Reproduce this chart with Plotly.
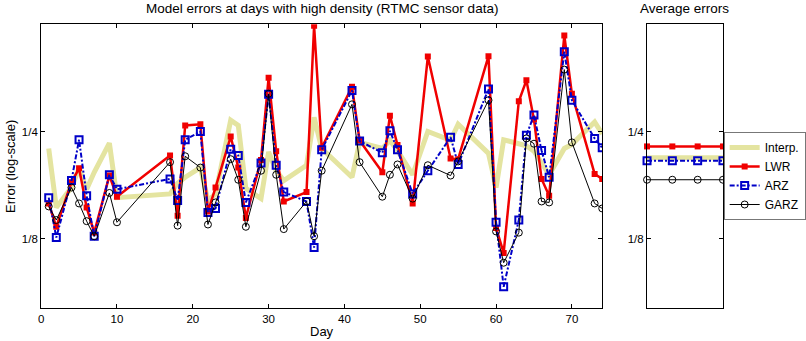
import plotly.graph_objects as go

days = [1, 2, 4, 5, 6, 7, 9, 10, 17, 18, 19, 21, 22, 23, 25, 26, 27, 29, 30, 31, 32, 35, 36, 37,
        41, 42, 45, 46, 47, 49, 51, 54, 55, 59, 60, 61, 63, 64, 65, 66, 67, 69, 70, 73, 74]

interp = [0.224, 0.153, 0.174, 0.197, 0.172, 0.192, 0.232, 0.163, 0.167, 0.179, 0.186, 0.198,
          0.160, 0.167, 0.269, 0.260, 0.173, 0.162, 0.219, 0.194, 0.182, 0.201, 0.274, 0.224,
          0.186, 0.233, 0.224, 0.236, 0.221, 0.189, 0.250, 0.236, 0.262, 0.217, 0.174, 0.237,
          0.231, 0.228, 0.220, 0.205, 0.189, 0.224, 0.230, 0.266, 0.246]

lwr = [0.157, 0.135, 0.180, 0.197, 0.153, 0.130, 0.188, 0.164, 0.214, 0.145, 0.260, 0.262,
       0.149, 0.174, 0.242, 0.198, 0.143, 0.208, 0.354, 0.220, 0.159, 0.169, 0.495, 0.225,
       0.334, 0.236, 0.192, 0.277, 0.229, 0.157, 0.406, 0.210, 0.209, 0.407, 0.134, 0.114,
       0.304, 0.348, 0.270, 0.184, 0.165, 0.465, 0.319, 0.190, 0.184]

arz = [0.163, 0.126, 0.182, 0.237, 0.165, 0.127, 0.189, 0.172, 0.184, 0.160, 0.237, 0.250,
       0.148, 0.152, 0.223, 0.214, 0.158, 0.204, 0.318, 0.201, 0.169, 0.159, 0.118, 0.222,
       0.326, 0.235, 0.218, 0.251, 0.222, 0.167, 0.194, 0.241, 0.202, 0.329, 0.139, 0.0916,
       0.141, 0.244, 0.278, 0.221, 0.186, 0.419, 0.306, 0.239, 0.225]

garz = [0.154, 0.141, 0.174, 0.157, 0.140, 0.127, 0.168, 0.139, 0.205, 0.136, 0.213, 0.198,
        0.137, 0.158, 0.209, 0.183, 0.135, 0.194, 0.319, 0.189, 0.133, 0.159, 0.127, 0.194,
        0.298, 0.205, 0.164, 0.189, 0.202, 0.162, 0.201, 0.188, 0.206, 0.306, 0.131, 0.107,
        0.130, 0.239, 0.231, 0.159, 0.158, 0.373, 0.233, 0.157, 0.152]

avg_x = [1, 2, 3, 4]
avg_interp = 0.211
avg_lwr = 0.227
avg_arz = 0.207
avg_garz = 0.183

names = ["Interp.", "LWR", "ARZ", "GARZ"]
ytick_vals = [0.125, 0.25]
ytick_text = ["1/8", "1/4"]
xtick_vals = [0, 10, 20, 30, 40, 50, 60, 70]

W, H = 806, 341
FONT = "Liberation Sans, Arial, sans-serif"
YELLOW = "rgb(228,228,160)"
RED = "rgb(240,0,0)"
BLUE = "rgb(0,0,200)"
BLACK = "black"

styles = {
    "Interp.": dict(line=dict(color=YELLOW, width=5), mode="lines"),
    "LWR": dict(line=dict(color=RED, width=2.5), mode="lines+markers",
                marker=dict(symbol="square", size=6, color=RED)),
    "ARZ": dict(line=dict(color=BLUE, width=2, dash="5px,2px,2px,2px"), mode="lines+markers",
                marker=dict(symbol="square-open", size=7, color=BLUE, line=dict(width=2, color=BLUE))),
    "GARZ": dict(line=dict(color=BLACK, width=1), mode="lines+markers",
                 marker=dict(symbol="circle-open", size=7, color=BLACK, line=dict(width=1, color=BLACK))),
}

series = {"Interp.": interp, "LWR": lwr, "ARZ": arz, "GARZ": garz}
avgs = {"Interp.": avg_interp, "LWR": avg_lwr, "ARZ": avg_arz, "GARZ": avg_garz}

fig = go.Figure()
for n in names:
    fig.add_trace(go.Scatter(x=days, y=series[n], name=n, xaxis="x", yaxis="y",
                             showlegend=False, cliponaxis=True, **styles[n]))
for n in names:
    fig.add_trace(go.Scatter(x=avg_x, y=[avgs[n]] * len(avg_x), name=n, xaxis="x2", yaxis="y2",
                             showlegend=True, cliponaxis=False, **styles[n]))

def px(x):
    return x / W

def py(y):
    return 1 - y / H

ax_common = dict(showline=True, linecolor="black", linewidth=1, mirror="ticks",
                 ticks="inside", ticklen=4, tickcolor="black", showgrid=False,
                 zeroline=False, automargin=False,
                 tickfont=dict(family=FONT, size=11.5, color="black"))

ylog_range = [-1.09691, -0.30103]  # log10(0.08), log10(0.5)

def label(text, x, y, size, angle=0):
    return dict(text=text, x=px(x), y=py(y), xref="paper", yref="paper",
                xanchor="center", yanchor="middle", showarrow=False,
                textangle=angle, font=dict(family=FONT, size=size, color="black"))

fig.update_layout(
    width=W, height=H,
    margin=dict(l=0, r=0, t=0, b=0),
    paper_bgcolor="white", plot_bgcolor="white",
    font=dict(family=FONT, size=11.5, color="black"),
    xaxis=dict(domain=[px(41.5), px(607.5)], range=[0, 74], tickvals=xtick_vals,
               anchor="y", **ax_common),
    yaxis=dict(domain=[py(307.7), py(24.3)], type="log", range=ylog_range,
               tickvals=ytick_vals, ticktext=ytick_text, anchor="x", **ax_common),
    xaxis2=dict(domain=[px(652.7), px(729.3)], range=[1, 4], tickvals=[],
                anchor="y2", **ax_common),
    yaxis2=dict(domain=[py(307.7), py(24.3)], type="log", range=ylog_range,
                tickvals=ytick_vals, ticktext=ytick_text, anchor="x2", **ax_common),
    legend=dict(x=px(730), y=py(132), xanchor="left", yanchor="top",
                bgcolor="white", bordercolor="#777", borderwidth=1,
                font=dict(family=FONT, size=12, color="black"),
                tracegroupgap=0, itemwidth=30),
    annotations=[
        label("Model errors at days with high density (RTMC sensor data)", (41.5 + 607.5) / 2, 9, 13.5),
        label("Average errors", (652.7 + 729.3) / 2, 9, 13.5),
        label("Day", (41.5 + 607.5) / 2, 331, 13),
        label("Error (log-scale)", 10, 166, 13, angle=-90),
    ],
)

fig.write_html("out.html",
               config={"displayModeBar": False},
               post_script="document.body.style.margin='0px';document.body.style.overflow='hidden';")
